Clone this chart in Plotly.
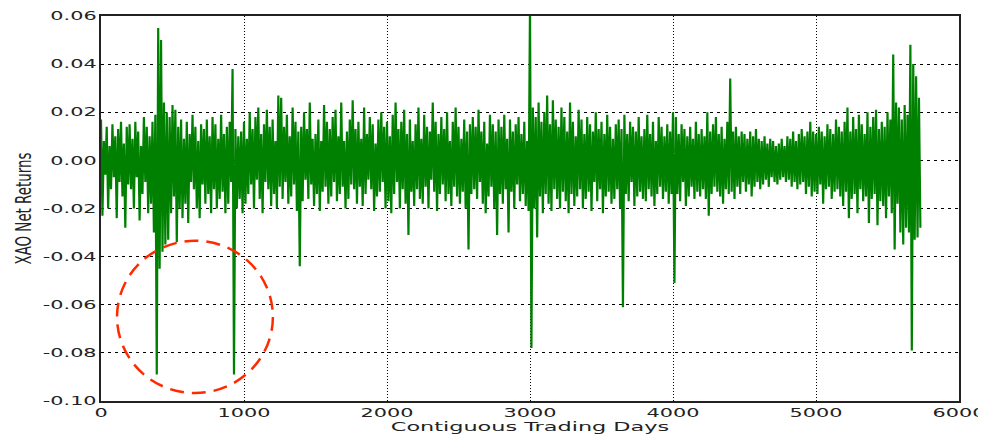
import plotly.graph_objects as go

# Net returns (in thousandths), one value per 10 trading days
returns_milli = [
    # 0 - 190
    17, -23, 8, -6, 14, -20, 6, -12, 15, -7, 10, -24, 13, -9, 16, -15, 7, -28, 14, -10,
    # 200 - 390
    15, -12, 9, -20, 16, -7, 12, -25, 6, -14, 18, -9, 14, -22, 10, -18, 16, -30, 19, -89,
    # 400 - 590
    55, -45, 50, -38, 24, -35, 20, -33, 18, -22, 23, -15, 21, -34, 14, -20, 17, -24, 9, -18,
    # 600 - 790
    16, -26, 11, -9, 19, -12, 14, -20, 8, -24, 15, -10, 13, -18, 17, -14, 10, -22, 18, -12,
    # 800 - 990
    15, -20, 9, -16, 19, -13, 11, -22, 14, -18, 16, -9, 38, -89, 13, -20, 10, -16, 12, -22,
    # 1000 - 1190
    16, -18, 9, -14, 20, -10, 13, -20, 18, -8, 22, -16, 11, -22, 15, -9, 21, -12, 14, -19,
    # 1200 - 1390
    17, -14, 8, -20, 27, -11, 26, -16, 14, -9, 19, -18, 10, -15, 22, -10, 16, -21, 12, -44,
    # 1400 - 1590
    14, -17, 20, -8, 13, -16, 24, -10, 9, -19, 11, -14, 17, -21, 8, -13, 23, -11, 16, -18,
    # 1600 - 1790
    13, -15, 18, -9, 21, -17, 10, -14, 24, -11, 8, -20, 12, -16, 17, -10, 25, -12, 13, -18,
    # 1800 - 1990
    16, -11, 9, -19, 22, -14, 11, -8, 18, -12, 15, -21, 7, -15, 17, -13, 20, -9, 14, -20,
    # 2000 - 2190
    16, -17, 10, -22, 19, -14, 24, -9, 13, -20, 16, -12, 21, -18, 11, -31, 17, -13, 8, -19,
    # 2200 - 2390
    15, -12, 22, -16, 9, -18, 19, -11, 14, -20, 12, -8, 24, -13, 16, -21, 11, -14, 18, -10,
    # 2400 - 2590
    13, -17, 20, -14, 8, -19, 16, -11, 22, -15, 14, -18, 9, -13, 17, -20, 12, -37, 15, -14,
    # 2600 - 2790
    18, -12, 14, -16, 21, -9, 12, -18, 16, -22, 7, -15, 19, -11, 15, -20, 12, -31, 17, -14,
    # 2800 - 2990
    14, -18, 19, -12, 9, -30, 17, -13, 12, -20, 15, -10, 18, -17, 11, -14, 16, -19, 8, -21,
    # 3000 - 3190
    65, -78, 22, -20, 18, -32, 24, -15, 16, -22, 20, -14, 27, -18, 15, -21, 25, -12, 17, -16,
    # 3200 - 3390
    14, -20, 22, -13, 18, -17, 12, -22, 24, -14, 16, -19, 10, -15, 21, -12, 17, -20, 11, -16,
    # 3400 - 3590
    18, -13, 15, -21, 12, -9, 20, -17, 13, -12, 16, -22, 11, -15, 19, -13, 14, -18, 9, -16,
    # 3600 - 3790
    15, -12, 17, -20, 13, -61, 19, -14, 11, -17, 16, -9, 14, -19, 12, -15, 18, -13, 10, -16,
    # 3800 - 3990
    13, -17, 19, -12, 11, -15, 16, -19, 8, -14, 18, -11, 14, -16, 10, -13, 15, -18, 12, -14,
    # 4000 - 4190
    20, -51, 18, -14, 11, -17, 15, -9, 13, -19, 10, -15, 14, -11, 9, -16, 16, -13, 11, -15,
    # 4200 - 4390
    13, -12, 10, -16, 20, -23, 12, -14, 15, -11, 18, -13, 11, -15, 14, -18, 9, -12, 16, -14,
    # 4400 - 4590
    34, -13, 12, -16, 14, -11, 10, -14, 12, -9, 11, -13, 9, -10, 12, -15, 10, -11, 13, -9,
    # 4600 - 4790
    9, -12, 8, -10, 10, -8, 7, -11, 9, -7, 8, -9, 6, -10, 7, -8, 9, -7, 6, -9,
    # 4800 - 4990
    10, -8, 9, -11, 12, -9, 8, -12, 11, -10, 13, -9, 10, -14, 12, -11, 16, -15, 12, -13,
    # 5000 - 5190
    11, -14, 14, -10, 12, -18, 10, -12, 15, -11, 13, -16, 11, -13, 17, -12, 14, -15, 12, -19,
    # 5200 - 5390
    16, -13, 22, -24, 12, -16, 18, -14, 13, -22, 19, -12, 15, -17, 11, -15, 20, -26, 14, -16,
    # 5400 - 5590
    18, -14, 21, -27, 13, -17, 16, -19, 14, -24, 20, -15, 17, -22, 44, -37, 24, -18, 22, -30,
    # 5600 - 5730
    17, -35, 23, -28, 19, -30, 48, -79, 40, -33, 35, -32, 26, -28,
]
day_step = 10
trading_days = [i * day_step for i in range(len(returns_milli))]
net_returns = [v / 1000 for v in returns_milli]

x_tick_vals = [0, 1000, 2000, 3000, 4000, 5000, 6000]
x_tick_text = ["0", "1000", "2000", "3000", "4000", "5000", "6000"]
y_tick_vals = [-0.10, -0.08, -0.06, -0.04, -0.02, 0.00, 0.02, 0.04, 0.06]
y_tick_text = ["-0.10", "-0.08", "-0.06", "-0.04", "-0.02", "0.00", "0.02", "0.04", "0.06"]

# highlighted region (dashed red circle), in data units
circle_x = [112, 1202]
circle_y = [-0.0967, -0.0334]

fig = go.Figure()
fig.add_trace(go.Scatter(
    x=trading_days, y=net_returns, mode="lines",
    line=dict(color="#008000", width=2.2, simplify=False),
    hoverinfo="skip", showlegend=False,
))

fig.add_shape(
    type="circle", xref="x", yref="y",
    x0=circle_x[0], x1=circle_x[1], y0=circle_y[0], y1=circle_y[1],
    line=dict(color="#ff2a00", width=2.5, dash="14px,8px"),
    layer="above",
)

tick_font = dict(family="DejaVu Sans", size=12, color="#222222")

fig.update_layout(
    width=978, height=426,
    margin=dict(l=93, r=27, t=8, b=33),
    paper_bgcolor="white", plot_bgcolor="white",
    font=dict(family="DejaVu Sans", color="#222222"),
    xaxis=dict(
        range=[0, 6000], tickvals=x_tick_vals, ticktext=x_tick_text,
        tickfont=tick_font, showgrid=True, gridcolor="black", gridwidth=1,
        griddash="1px,2px", zeroline=False, showline=True, linecolor="#222222",
        linewidth=2, mirror=True, ticks="", automargin=False,
        title=dict(text="Contiguous Trading Days",
                   font=dict(family="DejaVu Sans", size=13, color="#222222"),
                   standoff=0),
    ),
    yaxis=dict(
        range=[-0.10, 0.06], tickvals=y_tick_vals, ticktext=y_tick_text,
        tickfont=tick_font, showgrid=True, gridcolor="black", gridwidth=1,
        griddash="3px,4px", zeroline=False, showline=True, linecolor="#222222",
        linewidth=2, mirror=True, ticks="", automargin=False,
        title=dict(text="XAO Net Returns",
                   font=dict(family="DejaVu Sans", size=13.4, color="#222222"),
                   standoff=31),
    ),
)

# The reference image is stretched horizontally; widen the text glyphs to match.
post_js = """
var gd = document.getElementById('{plot_id}');
function widen(sel, k) {
    gd.querySelectorAll(sel).forEach(function(t) {
        var w = t.getComputedTextLength();
        t.setAttribute('textLength', (w * k).toFixed(2));
        t.setAttribute('lengthAdjust', 'spacingAndGlyphs');
    });
}
widen('.xtick text, .ytick text', 1.73);
widen('.g-xtitle text', 1.72);
var ks = 1.6;
gd.querySelectorAll('.g-ytitle text').forEach(function(t) {
    var cx = parseFloat(t.getAttribute('x')), cy = parseFloat(t.getAttribute('y'));
    var tr = t.getAttribute('transform') || '';
    t.setAttribute('transform', 'translate(' + cx + ',' + cy + ') scale(' + ks + ',1) translate(' + (-cx) + ',' + (-cy) + ') ' + tr);
});
"""

fig.write_html("out.html", config={"responsive": False}, post_script=post_js)
